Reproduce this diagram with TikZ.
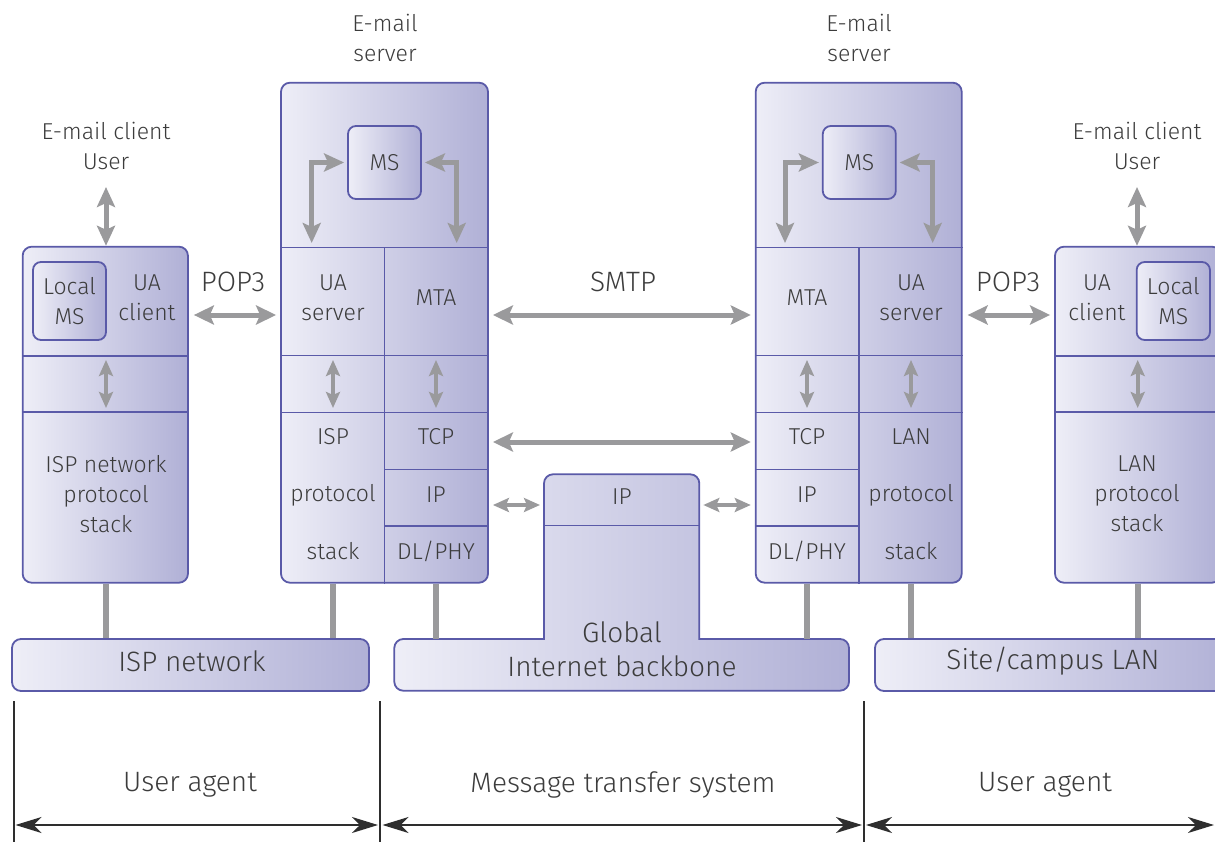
\documentclass[tikz,border=0pt]{standalone}
\usepackage{fontspec}
\setmainfont{Fira Sans Light}
\usetikzlibrary{arrows.meta}
\definecolor{bord}{HTML}{5A5AA8}
\definecolor{fillL}{HTML}{EEEEF7}
\definecolor{fillR}{HTML}{B0B0D6}
\definecolor{arr}{HTML}{9A9A9C}
\definecolor{txt}{HTML}{3C3C3C}
\definecolor{dark}{HTML}{2E2E2E}
\tikzset{
  box/.style={draw=bord, line width=1.8pt, rounded corners=9pt, left color=fillL, right color=fillR, inner sep=0pt},
  sbox/.style={box, rounded corners=8pt},
  lbl/.style={text=txt, font=\fontsize{23}{30}\selectfont, align=center, inner sep=0pt},
  big/.style={text=txt, font=\fontsize{28}{34}\selectfont, align=center, inner sep=0pt},
  sepline/.style={draw=bord, line width=1.5pt},
  bighead/.tip={Stealth[length=20pt,width=19pt,inset=4pt]},
  midhead/.tip={Stealth[length=20pt,width=18pt,inset=4pt]},
  smlhead/.tip={Stealth[length=16pt,width=14pt,inset=3pt]},
  garrow/.style={draw=arr, line width=5pt, {bighead}-{bighead}},
  marrow/.style={draw=arr, line width=5pt, {midhead}-{midhead}},
  varrow/.style={draw=arr, line width=4pt, {smlhead}-{smlhead}},
  iparrow/.style={draw=arr, line width=3.5pt, {smlhead}-{smlhead}},
  link/.style={draw=arr, line width=6pt},
  dimline/.style={draw=dark, line width=1.2pt},
  dimhead/.tip={Stealth[length=26pt,width=16pt,inset=8pt]},
  dimarrow/.style={draw=dark, line width=1.6pt, {dimhead}-{dimhead}},
}
\begin{document}
\begin{tikzpicture}[x=1pt,y=-1pt]
\useasboundingbox (0,0) rectangle (1215,842);
\clip (0,0) rectangle (1215,842);

% ---------- bars ----------
\node[box, minimum width=357pt, minimum height=52pt] (ispbar) at (190.5,665) {};
\node[big] (ispbarT) at (192,661) {ISP network};
\node[box, minimum width=360pt, minimum height=52pt] (lanbar) at (1055,665) {};
\node[big] (lanbarT) at (1053,661) {Site/campus LAN};

% backbone with IP tower
\path[draw=bord, line width=1.8pt, left color=fillL, right color=fillR]
  (394.3,665) [rounded corners=9pt] -- (394.3,690.7) -- (849,690.7) -- (849,639) [sharp corners] -- (699.3,639)
  [rounded corners=9pt] -- (699.3,474.3) -- (544,474.3) [sharp corners] -- (544,639) [rounded corners=9pt] -- (394.3,639) -- (394.3,665) -- cycle;
\coordinate (bbL) at (394.3,639);
\coordinate (bbR) at (849,639);
\coordinate (bbipL) at (544,505);
\coordinate (bbipR) at (699.3,505);
\draw[sepline] (544,525.7) -- (699.3,525.7);
\node[lbl] (bbip) at (622,497) {IP};
\node[big] (bbT) at (622,649) {Global\\Internet backbone};

% ---------- left client ----------
\node[box, minimum width=165.3pt, minimum height=336pt] (cl) at (105.3,414.7) {};
\draw[sepline] (cl.west |- 0,356) -- (cl.east |- 0,356);
\draw[sepline] (cl.west |- 0,412) -- (cl.east |- 0,412);
\node[sbox, minimum width=73pt, minimum height=78pt] (lmsL) at (69.5,301) {};
\node[lbl] at (lmsL) {Local\\MS};
\node[lbl] (uacL) at (147,298) {UA\\client};
\node[lbl] (ispstack) at (106,494) {ISP network\\protocol\\stack};
\coordinate (clA) at (106,360);
\coordinate (clB) at (106,408);
\draw[varrow] (clA) -- (clB);
\node[lbl] (ecuL) at (106,145.5) {E-mail client\\User};
\draw[marrow] (106,187) -- (cl.north -| 106,0);

% ---------- left server ----------
\node[box, minimum width=207pt, minimum height=500pt] (ls) at (384.5,332.7) {};
\draw[sepline] (ls.west |- 0,247.3) -- (ls.east |- 0,247.3);
\draw[sepline] (ls.west |- 0,355.7) -- (ls.east |- 0,355.7);
\draw[sepline] (ls.west |- 0,412.3) -- (ls.east |- 0,412.3);
\draw[sepline] (384.3,247.3) -- (ls.south -| 384.3,0);
\draw[sepline] (384.3,469.3) -- (ls.east |- 0,469.3);
\draw[sepline] (384.3,526) -- (ls.east |- 0,526);
\node[sbox, minimum width=73pt, minimum height=73pt] (msL) at (384.5,162.5) {};
\node[lbl] at (msL) {MS};
\node[lbl] (esL) at (385,37.5) {E-mail\\server};
\node[lbl] (uasL) at (333,298) {UA\\server};
\node[lbl] (mtaL) at (436,298) {MTA};
\node[lbl] (ispL1) at (333,437) {ISP};
\node[lbl] (ispL2) at (333,495) {protocol};
\node[lbl] (ispL3) at (333,551) {stack};
\node[lbl] (tcpL) at (436,437) {TCP};
\node[lbl] (ipL) at (436,495) {IP};
\node[lbl] (dlL) at (436,551) {DL/PHY};
\coordinate (msLa) at (311.7,243);
\coordinate (msLb) at (456.7,243);
\draw[marrow] ([xshift=-3pt]msL.west) -| (msLa);
\draw[marrow] ([xshift=3pt]msL.east) -| (msLb);
\draw[varrow] (333,360) -- (333,408);
\draw[varrow] (436,360) -- (436,408);

% ---------- right server ----------
\node[box, minimum width=206pt, minimum height=500pt] (rs) at (858.7,332.7) {};
\draw[sepline] (rs.west |- 0,247.3) -- (rs.east |- 0,247.3);
\draw[sepline] (rs.west |- 0,355.7) -- (rs.east |- 0,355.7);
\draw[sepline] (rs.west |- 0,412.3) -- (rs.east |- 0,412.3);
\draw[sepline] (859,247.3) -- (rs.south -| 859,0);
\draw[sepline] (rs.west |- 0,469.3) -- (859,469.3);
\draw[sepline] (rs.west |- 0,526) -- (859,526);
\node[sbox, minimum width=73pt, minimum height=73pt] (msR) at (859.3,162.5) {};
\node[lbl] at (msR) {MS};
\node[lbl] (esR) at (859,37.5) {E-mail\\server};
\node[lbl] (mtaR) at (807,298) {MTA};
\node[lbl] (uasR) at (911,298) {UA\\server};
\node[lbl] (tcpR) at (807,437) {TCP};
\node[lbl] (ipR) at (807,495) {IP};
\node[lbl] (dlR) at (807,551) {DL/PHY};
\node[lbl] (lanR1) at (911,437) {LAN};
\node[lbl] (lanR2) at (911,495) {protocol};
\node[lbl] (lanR3) at (911,551) {stack};
\coordinate (msRa) at (785,243);
\coordinate (msRb) at (932.7,243);
\draw[marrow] ([xshift=-3pt]msR.west) -| (msRa);
\draw[marrow] ([xshift=3pt]msR.east) -| (msRb);
\draw[varrow] (807,360) -- (807,408);
\draw[varrow] (911,360) -- (911,408);

% ---------- right client ----------
\node[box, minimum width=166pt, minimum height=336pt] (cr) at (1138,414.7) {};
\draw[sepline] (cr.west |- 0,356) -- (cr.east |- 0,356);
\draw[sepline] (cr.west |- 0,412) -- (cr.east |- 0,412);
\node[sbox, minimum width=73.3pt, minimum height=78pt] (lmsR) at (1173.3,301) {};
\node[lbl] at (lmsR) {Local\\MS};
\node[lbl] (uacR) at (1097,298) {UA\\client};
\node[lbl] (lanstack) at (1137,494) {LAN\\protocol\\stack};
\draw[varrow] (1137.7,360) -- (1137.7,408);
\node[lbl] (ecuR) at (1137,145.5) {E-mail client\\User};
\draw[marrow] (1137,187) -- (cr.north -| 1137,0);

% ---------- horizontal protocol arrows ----------
\node[big] (pop3L) at (233,282) {POP3};
\draw[garrow] ([xshift=5pt]cl.east |- 0,315) -- ([xshift=-4pt]ls.west |- 0,315);
\node[big] (smtp) at (623,282) {SMTP};
\draw[garrow] ([xshift=4pt]ls.east |- 0,315) -- ([xshift=-4pt]rs.west |- 0,315);
\draw[garrow] ([xshift=4pt]ls.east |- 0,442) -- ([xshift=-4pt]rs.west |- 0,442);
\draw[iparrow] ([xshift=4pt]ls.east |- 0,505) -- ([xshift=-4pt]bbipL);
\draw[iparrow] ([xshift=4pt]bbipR) -- ([xshift=-4pt]rs.west |- 0,505);
\node[big] (pop3R) at (1008,282) {POP3};
\draw[garrow] ([xshift=5pt]rs.east |- 0,315) -- ([xshift=-4pt]cr.west |- 0,315);

% ---------- links to networks ----------
\draw[link] (cl.south -| 106,0) -- (ispbar.north -| 106,0);
\draw[link] (ls.south -| 333,0) -- (ispbar.north -| 333,0);
\draw[link] (ls.south -| 436,0) -- (bbL -| 436,0);
\draw[link] (rs.south -| 807,0) -- (bbR -| 807,0);
\draw[link] (rs.south -| 911,0) -- (lanbar.north -| 911,0);
\draw[link] (cr.south -| 1137.5,0) -- (lanbar.north -| 1137.5,0);

% ---------- bottom dimension ----------
\coordinate (d0t) at (14,701); \coordinate (d0b) at (14,842);
\coordinate (d1t) at (380,701); \coordinate (d1b) at (380,842);
\coordinate (d2t) at (864,701); \coordinate (d2b) at (864,842);
\draw[dimline] (d0t) -- (d0b);
\draw[dimline] (d1t) -- (d1b);
\draw[dimline] (d2t) -- (d2b);
\coordinate (a0) at (15.5,825); \coordinate (a1) at (378,825);
\coordinate (a2) at (382.5,825); \coordinate (a3) at (862,825);
\coordinate (a4) at (866,825); \coordinate (a5) at (1214,825);
\draw[dimarrow] (a0) -- (a1);
\draw[dimarrow] (a2) -- (a3);
\draw[dimarrow] (a4) -- (a5);
\node[big] (uaL) at (190,785) {User agent};
\node[big] (mts) at (623,785) {Message transfer system};
\node[big] (uaR) at (1045,785) {User agent};
\end{tikzpicture}
\end{document}
